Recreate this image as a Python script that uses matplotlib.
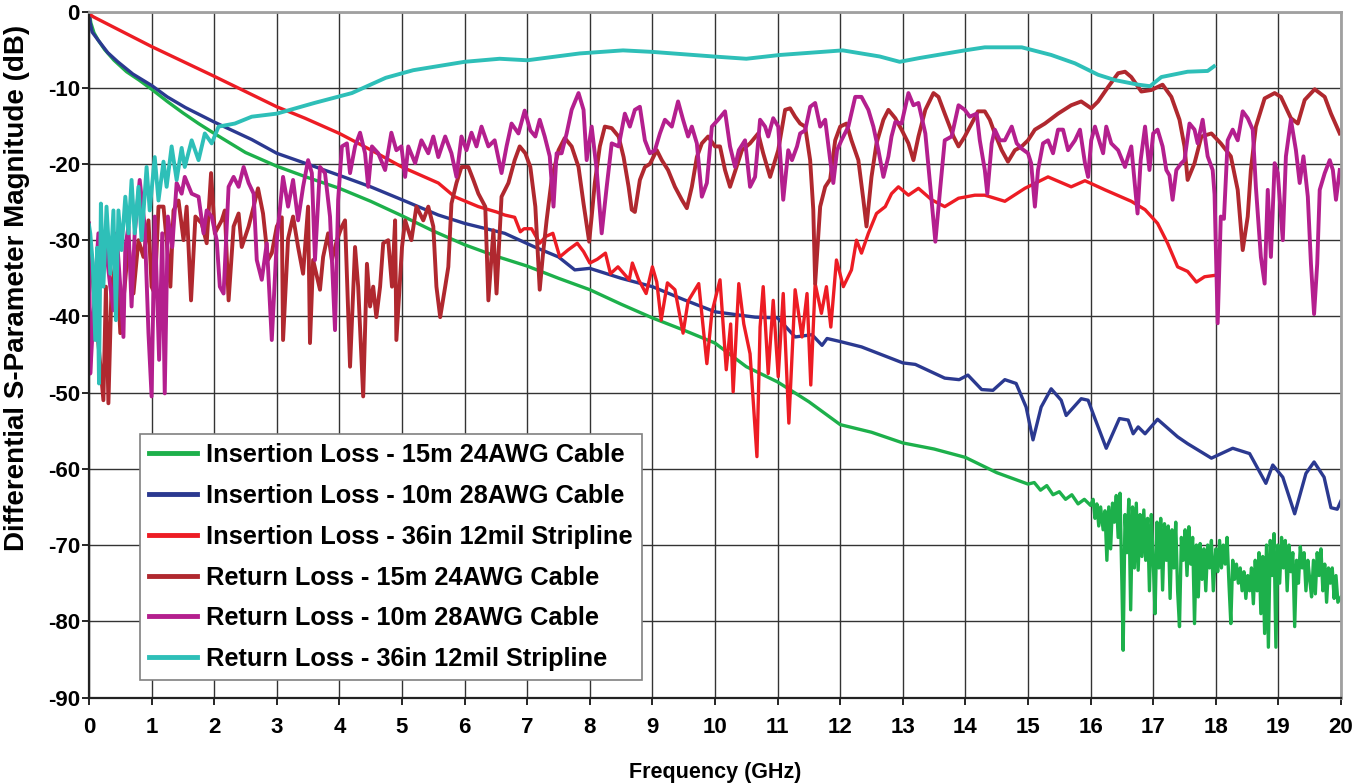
import matplotlib
matplotlib.use("Agg")
import matplotlib.pyplot as plt

plt.rcParams["font.family"] = ["Liberation Sans", "DejaVu Sans"]
plt.rcParams["axes.unicode_minus"] = False

# ---- Insertion Loss - 15m 24AWG Cable (green)
il15_f = [0, 0.03, 0.08, 0.15, 0.25, 0.4, 0.6, 0.8, 1.0, 1.25, 1.5, 1.75, 2.0, 2.5, 3.0,
          3.5, 4.0, 4.5, 5.0, 5.5, 6.0, 6.5, 7.0, 7.5, 8.0, 8.5, 9.0, 9.5, 10.0, 10.5,
          11.0, 11.5, 12.0, 12.5, 13.0, 13.5, 14.0, 14.5,
          15.0, 15.1, 15.2, 15.3, 15.4, 15.5, 15.6, 15.7, 15.8, 15.9, 16.0, 16.04, 16.07, 16.1,
          16.13, 16.16, 16.2, 16.23, 16.26, 16.29, 16.32, 16.35, 16.38, 16.41, 16.44, 16.47,
          16.5, 16.52, 16.55, 16.58, 16.61, 16.64, 16.67, 16.7, 16.73, 16.76, 16.79, 16.82,
          16.85, 16.88, 16.91, 16.94, 16.97, 17.0, 17.03, 17.06, 17.09, 17.12, 17.15, 17.18,
          17.21, 17.24, 17.27, 17.3, 17.33, 17.36, 17.39, 17.42, 17.45, 17.48, 17.51, 17.54,
          17.57, 17.6, 17.63, 17.66, 17.69, 17.72, 17.75, 17.78, 17.81, 17.84, 17.87, 17.9,
          17.93, 17.96, 18.0, 18.03, 18.06, 18.09, 18.12, 18.15, 18.18, 18.21, 18.24, 18.27,
          18.3, 18.33, 18.36, 18.39, 18.42, 18.45, 18.48, 18.51, 18.54, 18.57, 18.6, 18.63,
          18.66, 18.69, 18.72, 18.75, 18.78, 18.81, 18.84, 18.87, 18.9, 18.93, 18.96, 18.99,
          19.02, 19.05, 19.08, 19.11, 19.14, 19.17, 19.2, 19.23, 19.26, 19.29, 19.32, 19.35,
          19.38, 19.41, 19.44, 19.47, 19.5, 19.53, 19.56, 19.59, 19.62, 19.65, 19.68, 19.71,
          19.74, 19.77, 19.8, 19.83, 19.86, 19.89, 19.92, 19.95, 20.0]
il15_db = [0, -1.5, -2.8, -3.8, -5.0, -6.4, -7.9, -9.0, -10.2, -11.8, -13.3, -14.7, -16.0, -18.5, -20.3,
           -21.8, -23.2, -24.9, -26.8, -28.8, -30.6, -32.1, -33.4, -35.0, -36.5, -38.4, -40.2, -41.8, -43.5, -46.6,
           -48.6, -51.2, -54.2, -55.2, -56.6, -57.4, -58.5, -60.5,
           -62.0, -61.8, -62.8, -62.2, -63.4, -63.0, -64.0, -63.4, -64.6, -64.0, -64.8, -64.0, -66.5, -64.6,
           -67.5, -65.0, -68.0, -65.5, -72.0, -65.0, -70.5, -64.5, -67.0, -63.5, -69.0, -63.2,
           -75.0, -83.8, -66.0, -71.0, -64.0, -78.5, -65.0, -73.0, -64.5, -73.3, -66.0, -71.5,
           -65.4, -72.0, -66.5, -76.0, -66.0, -72.0, -79.0, -67.0, -73.0, -66.5, -75.9, -67.2,
           -72.0, -67.5, -77.0, -68.0, -73.0, -67.0, -76.0, -80.7, -69.0, -72.0, -68.0, -74.0,
           -67.6, -72.5, -69.0, -80.3, -70.0, -76.8, -69.8, -74.5, -70.5, -76.0, -70.0, -73.0,
           -69.4, -76.0, -70.5, -73.5, -69.4, -73.0, -70.0, -72.5, -69.0, -75.0, -80.3, -72.0,
           -74.5, -72.5, -75.0, -73.0, -76.0, -73.5, -77.0, -74.0, -76.0, -73.0, -77.7, -72.0,
           -76.0, -71.0, -79.0, -71.5, -81.6, -70.0, -83.4, -69.4, -74.0, -68.5, -83.4, -70.0,
           -75.0, -69.0, -73.0, -69.4, -76.0, -70.0, -73.5, -71.0, -80.7, -72.0, -75.0, -70.2,
           -73.0, -71.0, -76.0, -72.0, -74.5, -76.8, -72.0, -76.4, -71.0, -74.0, -70.5, -76.0,
           -72.5, -77.5, -73.0, -75.0, -73.0, -77.0, -74.0, -77.5, -76.8]

# ---- Insertion Loss - 10m 28AWG Cable (blue)
il10_f = [0, 0.02, 0.05, 0.15, 0.3, 0.46, 0.7, 1.0, 1.25, 1.54, 2.0, 2.6, 3.0, 3.45, 4.0, 4.5,
          5.0, 5.58, 6.0, 6.64, 7.12, 7.5, 7.76, 8.0, 8.5, 9.0, 9.5, 10.0, 10.64, 11.0, 11.28,
          11.55, 11.71, 11.79, 12.0, 12.34, 13.0, 13.2, 13.67, 13.9, 14.04, 14.26, 14.44, 14.63,
          14.81, 14.97, 15.08, 15.21, 15.37, 15.53, 15.61, 15.85, 15.96, 16.06, 16.25, 16.46,
          16.6, 16.68, 16.76, 16.87, 17.07, 17.39, 17.55, 17.93, 18.27, 18.54, 18.8, 18.91,
          19.07, 19.26, 19.44, 19.57, 19.73, 19.84, 19.94, 20.0]
il10_db = [0, -1.5, -2.7, -3.8, -5.4, -6.6, -8.2, -9.7, -11.2, -12.6, -14.5, -16.8, -18.6, -19.9, -21.5, -23.0,
           -24.7, -26.7, -27.8, -29.1, -30.9, -32.2, -33.9, -33.7, -35.0, -36.1, -37.8, -39.4, -40.1, -40.2, -42.7,
           -42.4, -43.8, -42.9, -43.3, -44.0, -46.1, -46.3, -48.1, -48.3, -47.7, -49.6, -49.7, -48.3,
           -48.8, -51.9, -56.2, -51.9, -49.5, -51.0, -53.0, -50.8, -51.0, -53.2, -57.3, -53.4,
           -53.6, -55.4, -54.5, -55.4, -53.5, -55.8, -56.7, -58.6, -57.3, -58.0, -61.9, -59.5,
           -61.1, -65.9, -60.6, -59.1, -61.1, -65.1, -65.3, -64.2]

# ---- Insertion Loss - 36in 12mil Stripline (red)
ilsl_f = [0.0, 0.07, 1.0, 2.0, 3.0, 3.45, 4.0, 4.51, 5.0, 5.58, 5.84, 6.22, 6.51, 6.64, 6.8, 6.89,
          6.95, 7.07, 7.2, 7.3, 7.41, 7.52, 7.65, 7.8, 7.9, 8.0, 8.12, 8.25, 8.33, 8.45, 8.63,
          8.68, 8.78, 8.9, 9.0, 9.07, 9.14, 9.24, 9.36, 9.49, 9.57, 9.74, 9.87, 9.95, 10.08,
          10.18, 10.25, 10.29, 10.38, 10.46, 10.56, 10.67, 10.72, 10.77, 10.85, 10.93, 11.01,
          11.09, 11.18, 11.28, 11.39, 11.47, 11.53, 11.6, 11.7, 11.78, 11.85, 11.94, 12.05,
          12.18, 12.26, 12.34, 12.45, 12.58, 12.72, 12.82, 12.93, 13.09, 13.25, 13.46, 13.67,
          13.89, 14.15, 14.31, 14.63, 14.95, 15.32, 15.69, 15.91, 16.23, 16.65, 16.87, 17.07,
          17.23, 17.39, 17.55, 17.69, 17.82, 18.0]
ilsl_db = [-0.3, -0.7, -4.6, -8.5, -12.5, -14.0, -16.0, -18.2, -20.4, -22.5, -24.3, -25.6, -26.3, -26.7, -27.0, -28.9,
           -28.5, -28.5, -30.4, -29.5, -29.1, -32.2, -31.3, -30.4, -31.5, -33.0, -32.5, -31.7, -34.4, -33.5, -35.2,
           -33.0, -35.2, -37.0, -33.5, -35.5, -40.5, -35.6, -36.5, -42.2, -38.0, -35.7, -46.2, -39.5, -35.2,
           -47.0, -41.0, -49.9, -35.7, -41.0, -44.9, -58.4, -41.4, -36.1, -47.5, -37.9, -47.9,
           -37.0, -54.0, -36.5, -42.7, -37.0, -49.0, -35.7, -39.6, -36.1, -41.4, -32.6, -36.1,
           -33.9, -30.0, -31.7, -29.1, -26.5, -25.6, -23.9, -23.0, -24.1, -23.2, -24.7, -25.6,
           -24.5, -24.1, -24.1, -24.9, -23.2, -21.7, -23.0, -22.2, -23.4, -24.9, -26.0, -27.8,
           -30.4, -33.5, -34.1, -35.5, -34.8, -34.6]

# ---- Return Loss - 15m 24AWG Cable (dark red)
rl15_f = [0.0, 0.07, 0.23, 0.27, 0.31, 0.36, 0.44, 0.5, 0.57, 0.63, 0.71, 0.79, 0.87, 0.95, 1.0,
          1.05, 1.11, 1.19, 1.24, 1.3, 1.35, 1.43, 1.51, 1.56, 1.63, 1.7, 1.8, 1.88, 1.95, 2.01,
          2.12, 2.17, 2.23, 2.31, 2.39, 2.44, 2.55, 2.63, 2.7, 2.78, 2.86, 2.92, 3.0, 3.08, 3.1,
          3.18, 3.26, 3.34, 3.42, 3.5, 3.53, 3.58, 3.69, 3.74, 3.82, 3.88, 3.96, 4.04, 4.09,
          4.17, 4.25, 4.3, 4.38, 4.44, 4.49, 4.54, 4.59, 4.65, 4.7, 4.78, 4.84, 4.89, 4.91,
          5.0, 5.05, 5.15, 5.23, 5.34, 5.42, 5.5, 5.55, 5.61, 5.69, 5.74, 5.79, 5.87, 5.95,
          6.06, 6.14, 6.22, 6.33, 6.38, 6.46, 6.51, 6.59, 6.7, 6.8, 6.88, 6.97, 7.05, 7.13,
          7.2, 7.25, 7.31, 7.39, 7.5, 7.6, 7.71, 7.82, 7.9, 7.99, 8.03, 8.08, 8.16, 8.24, 8.35,
          8.46, 8.54, 8.62, 8.67, 8.72, 8.8, 8.88, 8.96, 9.07, 9.15, 9.25, 9.36, 9.47, 9.55,
          9.63, 9.71, 9.79, 9.89, 10.0, 10.08, 10.16, 10.24, 10.32, 10.43, 10.56, 10.69, 10.77,
          10.88, 11.01, 11.12, 11.2, 11.28, 11.36, 11.44, 11.52, 11.57, 11.6, 11.68, 11.76,
          11.84, 11.92, 12.0, 12.1, 12.18, 12.29, 12.37, 12.42, 12.5, 12.58, 12.69, 12.77,
          12.88, 12.98, 13.09, 13.17, 13.25, 13.36, 13.49, 13.57, 13.67, 13.81, 13.89, 13.99,
          14.1, 14.2, 14.31, 14.39, 14.47, 14.58, 14.68, 14.79, 14.9, 15.0, 15.11, 15.27, 15.48,
          15.69, 15.85, 16.01, 16.12, 16.28, 16.44, 16.55, 16.65, 16.81, 16.97, 17.15, 17.29,
          17.42, 17.5, 17.55, 17.66, 17.77, 17.93, 18.08, 18.24, 18.35, 18.43, 18.51, 18.56,
          18.64, 18.78, 18.94, 19.04, 19.2, 19.31, 19.42, 19.58, 19.74, 19.84, 19.98]
rl15_db = [-29.1, -36.1, -51.0, -36.1, -51.4, -36.1, -32.2, -42.2, -36.1, -30.4, -37.0, -30.0, -32.2, -27.4, -36.1,
           -37.0, -25.6, -25.6, -30.0, -36.1, -26.1, -24.8, -30.0, -25.6, -37.9, -26.9, -27.8, -30.4, -21.2, -29.1,
           -27.4, -26.1, -37.9, -28.2, -26.5, -30.9, -28.2, -25.6, -23.2, -26.5, -32.6, -31.7, -28.2, -27.0, -43.1,
           -29.8, -26.9, -30.9, -34.4, -25.6, -43.5, -32.6, -36.5, -32.2, -29.1, -32.6, -30.0, -28.2, -27.4,
           -46.6, -30.9, -36.1, -50.5, -33.1, -38.7, -36.1, -40.1, -36.1, -30.4, -30.0, -36.1, -27.4, -43.1,
           -30.9, -27.4, -30.0, -25.6, -27.4, -25.6, -28.2, -36.1, -40.1, -36.1, -33.5, -25.2, -22.5, -20.4,
           -20.4, -22.1, -23.9, -25.6, -37.9, -28.7, -37.0, -24.3, -22.5, -19.5, -17.7, -18.6, -20.4, -25.6,
           -36.5, -32.0, -27.4, -22.1, -18.2, -16.6, -17.7, -20.4, -25.2, -30.2, -26.9, -22.5, -17.7, -15.1, -15.3,
           -16.4, -19.1, -23.0, -26.0, -26.3, -22.1, -20.4, -20.0, -18.2, -19.5, -20.8, -23.0, -24.7, -25.8,
           -23.0, -19.1, -17.3, -16.4, -17.7, -17.7, -20.8, -23.0, -21.0, -18.2, -17.3, -16.0, -18.6,
           -21.7, -18.2, -12.9, -12.7, -13.8, -14.7, -15.1, -19.5, -26.0, -35.7, -25.6, -23.0,
           -22.0, -16.9, -15.1, -14.7, -16.9, -19.5, -24.7, -28.2, -21.7, -17.3, -14.2, -12.9,
           -14.0, -15.5, -17.3, -19.5, -16.4, -12.9, -10.7, -11.2, -13.4, -16.4, -17.7, -16.4,
           -14.7, -13.1, -13.1, -14.2, -16.0, -18.2, -19.7, -18.2, -17.7, -16.9, -15.5, -14.7, -13.4,
           -12.3, -11.8, -12.7, -11.8, -9.9, -8.1, -7.9, -8.6, -10.5, -10.3, -9.6, -11.2,
           -14.2, -17.7, -22.1, -19.9, -16.4, -16.0, -17.3, -19.0, -23.4, -31.3, -26.9, -20.8,
           -15.1, -11.4, -10.7, -11.2, -14.0, -14.7, -11.6, -10.2, -11.2, -13.4, -16.0]

# ---- Return Loss - 10m 28AWG Cable (magenta)
rl10_f = [0.0, 0.02, 0.07, 0.15, 0.25, 0.34, 0.39, 0.44, 0.5, 0.55, 0.58, 0.63, 0.68, 0.73, 0.81,
          0.89, 0.95, 1.0, 1.05, 1.12, 1.17, 1.21, 1.26, 1.33, 1.4, 1.48, 1.53, 1.64, 1.75, 1.83,
          1.88, 1.96, 2.04, 2.09, 2.15, 2.23, 2.31, 2.39, 2.47, 2.55, 2.63, 2.68, 2.76, 2.84,
          2.92, 3.0, 3.1, 3.18, 3.26, 3.34, 3.42, 3.5, 3.56, 3.61, 3.69, 3.77, 3.85, 3.93,
          3.98, 4.04, 4.12, 4.17, 4.25, 4.33, 4.41, 4.46, 4.52, 4.62, 4.73, 4.83, 4.91, 4.99,
          5.05, 5.1, 5.21, 5.31, 5.42, 5.5, 5.58, 5.69, 5.79, 5.87, 5.95, 6.03, 6.11, 6.19,
          6.27, 6.38, 6.48, 6.59, 6.67, 6.75, 6.86, 6.96, 7.05, 7.13, 7.2, 7.28, 7.36, 7.42,
          7.47, 7.55, 7.63, 7.71, 7.82, 7.9, 7.95, 8.03, 8.11, 8.19, 8.27, 8.35, 8.46, 8.56,
          8.64, 8.72, 8.8, 8.88, 8.96, 9.04, 9.12, 9.2, 9.31, 9.41, 9.49, 9.57, 9.63, 9.71,
          9.79, 9.87, 9.95, 10.05, 10.16, 10.24, 10.32, 10.38, 10.48, 10.56, 10.64, 10.72,
          10.8, 10.85, 10.93, 11.01, 11.09, 11.17, 11.23, 11.31, 11.36, 11.44, 11.52, 11.6,
          11.68, 11.76, 11.84, 11.89, 11.95, 12.02, 12.13, 12.24, 12.34, 12.45, 12.53, 12.61,
          12.69, 12.77, 12.82, 12.88, 12.98, 13.09, 13.17, 13.25, 13.36, 13.44, 13.52, 13.6,
          13.67, 13.78, 13.89, 13.99, 14.07, 14.18, 14.23, 14.31, 14.35, 14.42, 14.47, 14.55,
          14.63, 14.74, 14.82, 14.9, 15.0, 15.05, 15.11, 15.16, 15.24, 15.32, 15.4, 15.48,
          15.56, 15.64, 15.75, 15.83, 15.91, 15.96, 16.01, 16.07, 16.15, 16.2, 16.25, 16.33,
          16.44, 16.55, 16.6, 16.65, 16.71, 16.75, 16.8, 16.87, 16.94, 17.0, 17.07, 17.15,
          17.21, 17.26, 17.31, 17.37, 17.45, 17.5, 17.58, 17.66, 17.71, 17.79, 17.87, 17.95,
          17.98, 18.03, 18.08, 18.13, 18.19, 18.27, 18.35, 18.43, 18.51, 18.59, 18.64, 18.72,
          18.78, 18.83, 18.88, 18.94, 18.99, 19.07, 19.12, 19.2, 19.28, 19.34, 19.4, 19.47,
          19.52, 19.57, 19.62, 19.66, 19.74, 19.82, 19.87, 19.92, 19.98]
rl10_db = [-27.8, -47.5, -40.0, -29.1, -29.5, -36.1, -39.2, -29.1, -36.1, -42.7, -30.9, -28.2, -38.7, -29.1, -22.1,
           -28.2, -42.2, -50.5, -26.9, -45.7, -29.1, -50.1, -26.9, -30.9, -22.5, -23.9, -21.7, -23.9, -24.3, -29.1,
           -26.1, -26.9, -30.0, -36.1, -37.0, -23.0, -21.7, -23.0, -20.4, -22.5, -23.9, -32.6, -35.2, -30.4,
           -43.1, -30.0, -21.7, -25.6, -22.1, -27.4, -23.0, -19.5, -21.2, -32.6, -20.4, -21.2, -26.9, -41.8,
           -24.7, -17.7, -17.3, -21.2, -17.7, -15.9, -18.6, -23.0, -17.7, -18.6, -20.8, -15.9, -18.2, -17.7,
           -21.7, -17.7, -19.9, -16.9, -18.6, -16.4, -19.1, -16.4, -18.6, -21.7, -16.4, -18.2, -15.9, -17.7,
           -15.1, -17.7, -16.9, -21.2, -17.7, -14.7, -16.0, -13.0, -15.6, -16.4, -14.2, -16.4, -19.0, -25.6,
           -18.6, -18.6, -16.0, -12.9, -10.7, -12.9, -19.5, -15.1, -20.8, -29.1, -23.0, -17.3, -17.7, -13.4,
           -15.1, -12.9, -12.5, -16.9, -18.6, -18.2, -16.0, -14.2, -15.1, -11.8, -14.2, -16.4, -15.1, -17.3,
           -24.3, -22.5, -15.1, -14.2, -13.1, -17.7, -20.4, -18.2, -16.9, -23.0, -21.7, -14.2,
           -15.1, -16.4, -14.0, -15.1, -24.7, -18.2, -19.5, -17.7, -16.0, -15.6, -12.5, -12.0,
           -15.1, -14.2, -19.5, -22.5, -18.2, -16.9, -15.1, -11.2, -11.2, -12.9, -15.1, -18.2,
           -21.7, -19.0, -16.4, -14.5, -14.7, -10.7, -12.3, -12.0, -16.0, -23.0, -30.2, -23.0,
           -16.9, -16.4, -12.3, -12.9, -13.8, -13.4, -16.9, -20.8, -23.9, -17.3, -15.5, -16.9,
           -16.9, -15.1, -17.3, -18.0, -18.6, -19.9, -25.6, -20.8, -17.3, -16.9, -18.6, -15.5,
           -15.5, -18.2, -16.9, -15.5, -19.9, -21.7, -16.9, -15.1, -17.3, -18.6, -15.1, -17.3,
           -18.2, -20.4, -19.0, -17.7, -23.0, -26.5, -19.5, -15.1, -20.8, -16.0, -15.5, -17.7,
           -20.8, -21.5, -24.7, -20.8, -19.9, -19.5, -14.7, -15.5, -17.3, -14.2, -19.0, -20.8,
           -24.0, -40.9, -26.9, -27.2, -16.9, -15.5, -16.9, -13.1, -14.0, -15.5, -23.0, -32.2,
           -35.7, -23.4, -32.2, -19.9, -21.2, -30.0, -19.0, -14.2, -18.2, -22.5, -19.0, -24.3,
           -33.1, -39.7, -33.1, -23.4, -21.2, -19.5, -20.8, -24.7, -20.8]

# ---- Return Loss - 36in 12mil Stripline (cyan)
rlsl_f = [0.0, 0.02, 0.06, 0.1, 0.13, 0.16, 0.19, 0.23, 0.28, 0.34, 0.39, 0.43, 0.47, 0.52, 0.58,
          0.63, 0.68, 0.73, 0.79, 0.84, 0.92, 0.97, 1.05, 1.11, 1.19, 1.24, 1.32, 1.4, 1.48,
          1.53, 1.64, 1.75, 1.85, 1.96, 2.07, 2.33, 2.6, 3.0, 3.6, 4.2, 4.74, 5.18, 6.0, 6.56,
          7.0, 7.84, 8.53, 9.0, 9.97, 10.5, 11.04, 12.04, 12.63, 12.95, 13.27, 13.99, 14.31,
          14.9, 15.37, 15.75, 16.12, 16.39, 16.76, 16.95, 17.13, 17.55, 17.87, 17.97]
rlsl_db = [-28.0, -29.1, -33.0, -43.1, -31.0, -48.8, -25.2, -36.1, -25.6, -34.4, -26.1, -40.5, -26.1, -31.3, -24.3,
           -29.1, -22.1, -29.1, -23.0, -30.0, -20.4, -26.1, -19.1, -24.8, -19.7, -23.0, -17.7, -22.1, -17.9,
           -20.4, -16.9, -19.5, -16.0, -17.3, -15.1, -14.7, -13.8, -13.4, -12.0, -10.7, -8.7, -7.7, -6.6, -6.2,
           -6.4, -5.5, -5.1, -5.3, -5.9, -6.2, -5.7, -5.1, -5.9, -6.6, -6.1, -5.1, -4.7,
           -4.7, -5.7, -6.8, -8.3, -9.0, -9.6, -9.8, -8.6, -7.9, -7.8, -7.2]

labels = ["Insertion Loss - 15m 24AWG Cable",
          "Insertion Loss - 10m 28AWG Cable",
          "Insertion Loss - 36in 12mil Stripline",
          "Return Loss - 15m 24AWG Cable",
          "Return Loss - 10m 28AWG Cable",
          "Return Loss - 36in 12mil Stripline"]
colors = ["#1DB04B", "#2B3990", "#ED1C24", "#B0282F", "#B41F8E", "#2EBFB8"]
widths = [2.4, 2.4, 2.4, 2.8, 2.8, 2.8]
series = [(il15_f, il15_db), (il10_f, il10_db), (ilsl_f, ilsl_db),
          (rl15_f, rl15_db), (rl10_f, rl10_db), (rlsl_f, rlsl_db)]

fig = plt.figure(figsize=(13.66, 7.84), dpi=100)
ax = fig.add_axes([89 / 1366, 1 - 697.5 / 784, 1252 / 1366, 686 / 784])

for (f, db), c, w, lbl in zip(series, colors, widths, labels):
    ax.plot(f, db, color=c, lw=w, label=lbl)

ax.set_xlim(0, 20)
ax.set_ylim(-90, 0)
ax.set_xticks(range(0, 21))
ax.set_yticks(range(-90, 1, 10))
ax.grid(True, color="#333333", lw=1.0)
ax.set_axisbelow(True)

for side in ["top", "right"]:
    ax.spines[side].set_color("#a0a0a0")
    ax.spines[side].set_linewidth(2.0)
for side in ["left", "bottom"]:
    ax.spines[side].set_color("#222222")
    ax.spines[side].set_linewidth(1.6)

ax.tick_params(axis="both", direction="out", length=5, width=1.2, labelsize=16)
ax.tick_params(axis="x", pad=9)
ax.tick_params(axis="y", pad=1.5)
for t in ax.get_xticklabels() + ax.get_yticklabels():
    t.set_fontweight("bold")

ax.set_xlabel("Frequency (GHz)", fontsize=15.5, fontweight="bold")
ax.xaxis.set_label_coords(0.5, -0.094)
ax.set_ylabel("Differential S-Parameter Magnitude (dB)", fontsize=20, fontweight="bold")
ax.yaxis.set_label_coords(-0.047, 0.597)

leg = ax.legend(loc="lower left", bbox_to_anchor=(0.0407, 0.0255), borderaxespad=0,
                prop={"weight": "bold", "size": 18.3}, handlelength=1.9, handletextpad=0.35,
                labelspacing=0.66, borderpad=0.35, fancybox=False, framealpha=1.0)
leg.get_frame().set_edgecolor("#808080")
leg.get_frame().set_linewidth(1.2)
for line in leg.get_lines():
    line.set_linewidth(3.5)

fig.savefig("out.png", dpi=100)
